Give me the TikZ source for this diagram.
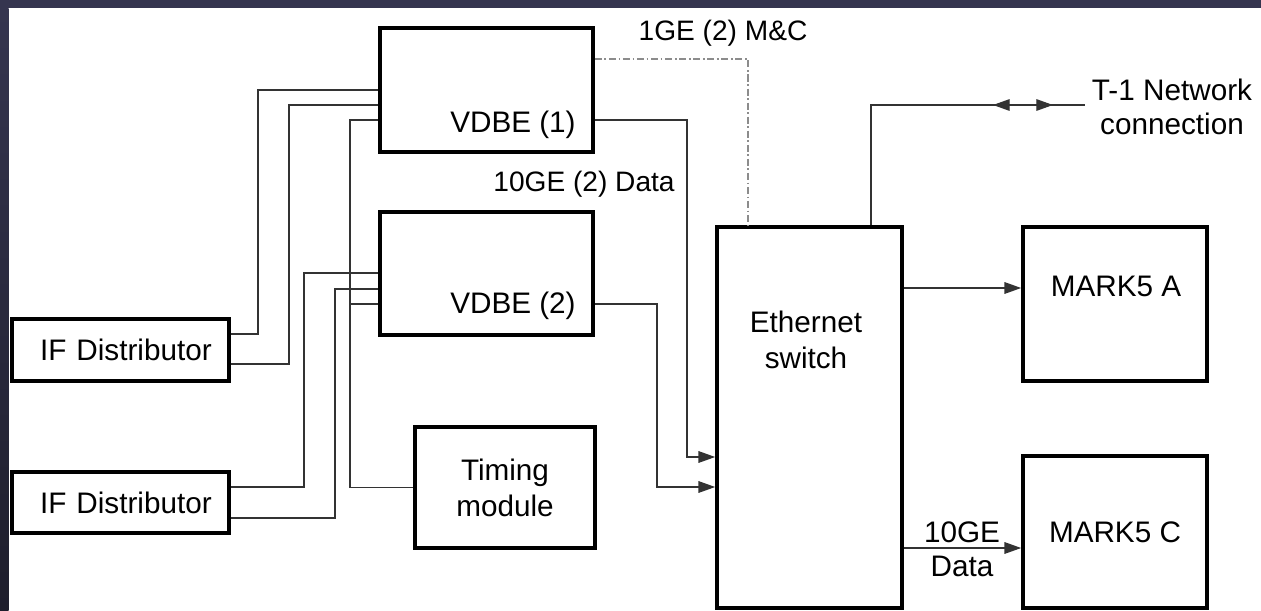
\documentclass[tikz,border=0pt]{standalone}
\usepackage{fontspec}
\setmainfont{Liberation Sans}
\usepackage{xcolor}
\usepackage{tikz}
\definecolor{slideNavy}{HTML}{35354F}
\definecolor{slideDark}{HTML}{1E1E2C}
\definecolor{wireGray}{HTML}{333333}
\definecolor{mcGray}{HTML}{8C8C8C}
\usetikzlibrary{arrows.meta,positioning,calc}

\begin{document}
\begin{tikzpicture}[
  x=0.02cm, y=-0.02cm,
  font=\fontsize{16.9}{20.5}\selectfont,
  box/.style={draw=black, line width=2.1pt, minimum width=4.26cm, minimum height=2.48cm, inner sep=0pt, align=center},
  wire/.style={draw=wireGray, line width=0.65pt},
  flow/.style={wire, -{Triangle[length=9.5pt, width=6.6pt]}},
  both/.style={wire, {Triangle[length=9.5pt, width=6.6pt]}-{Triangle[length=9.5pt, width=6.6pt]}},
  mcline/.style={draw=mcGray, line width=0.65pt, dash pattern=on 4pt off 1.5pt on 1pt off 1.5pt},
  linklabel/.style={font=\fontsize{16}{19}\selectfont, inner sep=0pt}
]
\useasboundingbox (0,0) rectangle (1261,611);

% Slide background
\fill[white] (0,0) rectangle (1261,611);
\fill[slideNavy] (0,0) rectangle (1261,8.5);
\shade[top color=slideNavy, bottom color=slideDark] (0,8.5) rectangle (8.5,611);

% Boxes
\node[box, minimum width=4.34cm, minimum height=1.24cm, text width=3.65cm, align=right] (ifA) at (120.5,350) {IF Distributor};
\node[box, minimum width=4.34cm, minimum height=1.22cm, text width=3.65cm, align=right] (ifB) at (120.5,502.5) {IF Distributor};
\node[box] (vdbeA) at (486.5,90) {};
\node[box, minimum height=2.46cm] (vdbeB) at (486.5,273.5) {};
\node[box, minimum width=3.6cm, minimum height=2.42cm] (timing) at (505,487.5) {Timing\\module};
\node[box, minimum width=3.7cm, minimum height=7.62cm] (switch) at (809.5,417.5) {};
\node[box, minimum width=3.68cm, minimum height=3.08cm] (markA) at (1115,304) {};
\node[box, minimum width=3.68cm, minimum height=3.04cm] (markC) at (1115,532) {MARK5 C};

% Texts inside boxes
\node[anchor=base east, inner sep=0pt] (vdbeAtxt) at (576,133) {VDBE (1)};
\node[anchor=base east, inner sep=0pt] (vdbeBtxt) at (576,314) {VDBE (2)};
\node[align=center, inner sep=0pt] (switchtxt) at (806,340) {Ethernet\\switch};
\node[inner sep=0pt] (markAtxt) at (1116,286) {MARK5 A};

% IF distributors to VDBEs
\draw[wire] (ifA.east |- 0,334) -| (258,90) -- (vdbeA.west |- 0,90);
\draw[wire] (ifA.east |- 0,364) -| (289,105) -- (vdbeA.west |- 0,105);
\draw[wire] (ifB.east |- 0,487) -| (304,273) -- (vdbeB.west |- 0,273);
\draw[wire] (ifB.east |- 0,518) -| (335,289) -- (vdbeB.west |- 0,289);

% Timing module to both VDBEs
\draw[wire] (timing.west) -| (350,120) -- (vdbeA.west |- 0,120);
\draw[wire] (350,304) -- (vdbeB.west |- 0,304);

% Data links into the switch
\draw[flow] (vdbeA.east |- 0,120) -| (687,457) -- (switch.west |- 0,457);
\draw[flow] (vdbeB.east |- 0,304) -| (657,487) -- (switch.west |- 0,487);
\node[linklabel, anchor=base east] (datalbl) at (675,192) {10GE (2) Data};

% M&C link
\draw[mcline] (vdbeA.east |- 0,59) -| (switch.north -| 748,0);
\node[linklabel] (mclbl) at (723,33) {1GE (2) M\&C};

% T-1 network
\coordinate (t1end) at (1085,105);
\coordinate (t1l) at (993,105);
\coordinate (t1r) at (1053,105);
\draw[wire] (switch.north -| 871,0) |- (t1end);
\draw[both] (t1l) -- (t1r);
\node[align=center, inner sep=0pt, font=\fontsize{16.9}{19.5}\selectfont] (t1lbl) at (1172,107) {T-1 Network\\connection};

% Switch to recorders
\draw[flow] (switch.east |- 0,288) -- (markA.west |- 0,288);
\draw[flow] (switch.east |- 0,548) -- (markC.west |- 0,548);
\node[align=center, inner sep=0pt, font=\fontsize{16.9}{19.5}\selectfont] (tengelbl) at (962,549) {10GE\\Data};

\end{tikzpicture}
\end{document}
